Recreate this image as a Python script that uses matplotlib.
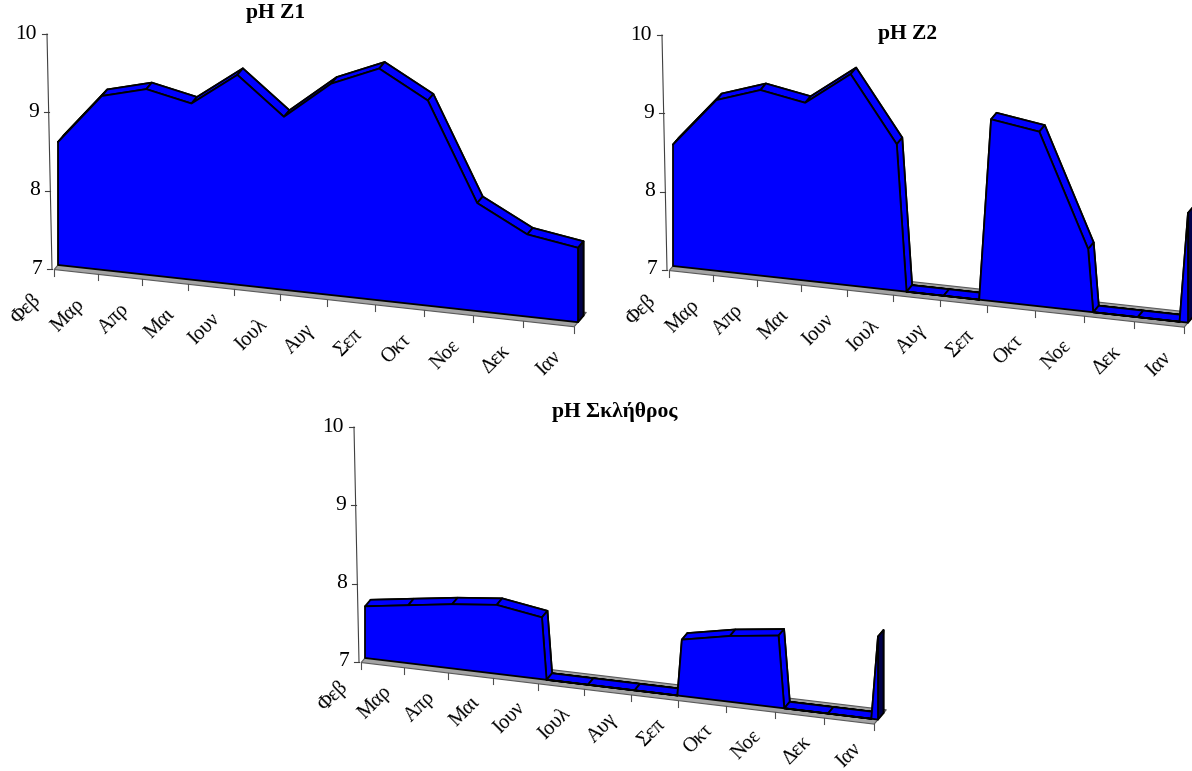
import numpy as np
import matplotlib
matplotlib.use('Agg')
import matplotlib.pyplot as plt
from matplotlib.patches import Polygon
from matplotlib.transforms import IdentityTransform

plt.rcParams['font.family'] = ['Liberation Serif', 'DejaVu Serif']

months = ['Φεβ', 'Μαρ', 'Απρ', 'Μαι', 'Ιουν', 'Ιουλ', 'Αυγ', 'Σεπ', 'Οκτ', 'Νοε', 'Δεκ', 'Ιαν']
ph_z1 = [8.57, 9.22, 9.37, 9.25, 9.68, 9.21, 9.70, 9.96, 9.62, 8.38, 8.05, 7.95]
ph_z2 = [8.55, 9.18, 9.37, 9.27, 9.70, 8.87, 0, 9.32, 9.23, 7.80, 0, 8.40]
ph_skl = [7.66, 7.74, 7.82, 7.88, 7.79, 0, 0, 7.72, 7.84, 7.92, 0, 8.06]
titles = ['pH Z1', 'pH Z2', 'pH Σκλήθρος']
yticks = [7, 8, 9, 10]

W, H = 1192, 771
UNIT = 78.3                      # pixels per pH unit
DEPTH = np.array([5.5, 6.5])     # depth of the 3D area, in pixels
BLUE = '#0000ff'
C = 0.008                        # perspective growth of category spacing
FS = 15.5


def fwd(x):
    return x * (1 + C * x)


def inv(u):
    return (-1 + np.sqrt(np.maximum(1 + 4 * C * u, 0))) / (2 * C)


def clipped_profile(vals, floor=7.0):
    # the value axis starts at 7, so cut the area where it dips below
    xs, ys = [], []
    for i, v in enumerate(vals):
        if i > 0 and (vals[i - 1] - floor) * (v - floor) < 0:
            f = (floor - vals[i - 1]) / (v - vals[i - 1])
            xs.append(i - 1 + f)
            ys.append(floor)
        xs.append(i)
        ys.append(max(v, floor))
    return np.array(xs, float), np.array(ys, float)


def proj(ax, k, xs, ys, t=0.0):
    pts = ax.transData.transform(np.column_stack([xs, ys]))
    x0 = ax.transData.transform((0, 7))[0]
    pts[:, 1] -= k * (pts[:, 0] - x0)
    pts += t * DEPTH
    return pts


def poly(ax, pts, fc, ec='black', lw=1.3):
    ax.add_patch(Polygon(pts, closed=True, facecolor=fc, edgecolor=ec, linewidth=lw,
                         joinstyle='round', transform=IdentityTransform(), clip_on=False))


def area3d(fig, vals, title, x0, x1, base, k, title_xy, label_dy=-21):
    ax = fig.add_axes([x0 / W, (H - base) / H, (x1 - x0) / W, 3 * UNIT / H])
    ax.set_xscale('function', functions=(fwd, inv))
    ax.set_xlim(0, len(vals) - 1)
    ax.set_ylim(7, 10)
    ax.set_axis_off()
    n = len(vals) - 1

    # floor
    ff = proj(ax, k, [0, n], [7, 7], -0.7)
    fb = proj(ax, k, [0, n], [7, 7], 1.5)
    poly(ax, [ff[0], ff[1], fb[1], fb[0]], '#a3a3a3', ec='#5a5a5a', lw=0.8)
    for i in range(n + 1):
        p = proj(ax, k, [i], [7], -0.7)[0]
        ax.plot([p[0], p[0]], [p[1], p[1] - 6], color='#505050', lw=0.8,
                transform=IdentityTransform(), clip_on=False)
        ax.text(p[0] - 9, p[1] + label_dy, months[i], rotation=45, ha='right', va='top',
                fontsize=14.5, transform=IdentityTransform())

    px, py = clipped_profile(vals)
    fx = np.concatenate([px, [n, 0]])
    fy = np.concatenate([py, [7, 7]])
    front = proj(ax, k, fx, fy, 0.0)
    back = proj(ax, k, fx, fy, 1.0)

    poly(ax, back, BLUE)
    m = len(px)
    for j in range(m - 1):
        poly(ax, [front[j], front[j + 1], back[j + 1], back[j]], BLUE)
    poly(ax, [front[m - 1], front[m], back[m], back[m - 1]], '#00004a')
    poly(ax, front, BLUE)

    # value axis
    org = proj(ax, k, [0], [7])[0]
    for v in yticks:
        y = proj(ax, k, [0], [v])[0][1] - 4
        xa = org[0] - 6 - 5 * (v - 7) / 3
        ax.plot([xa - 5, xa], [y, y], color='#404040', lw=0.8,
                transform=IdentityTransform(), clip_on=False)
        ax.text(xa - 10, y, str(v), ha='right', va='center', fontsize=FS,
                transform=IdentityTransform())
    ya = proj(ax, k, [0, 0], [7, 10])[:, 1] - 4
    ax.plot([org[0] - 6, org[0] - 11], ya, color='#404040', lw=0.8,
            transform=IdentityTransform(), clip_on=False)

    fig.text(title_xy[0] / W, 1 - title_xy[1] / H, title, ha='center', va='center',
             fontsize=FS, fontweight='bold')


fig = plt.figure(figsize=(W / 100, H / 100), dpi=100)
area3d(fig, ph_z1, titles[0], 58, 578, 265, 0.110, (276, 13))
area3d(fig, ph_z2, titles[1], 673, 1188, 266, 0.110, (907, 34))
area3d(fig, ph_skl, titles[2], 365, 878, 658, 0.120, (615, 412), label_dy=-15)
fig.savefig('out.png', dpi=100)
